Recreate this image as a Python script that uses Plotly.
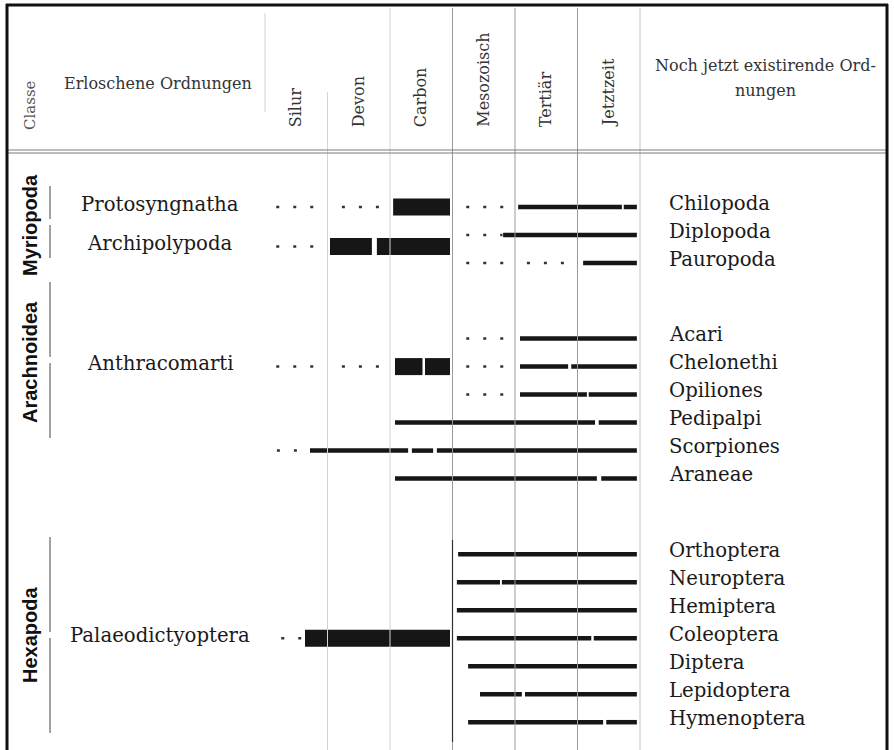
import plotly.graph_objects as go

# ─── Data ─────────────────────────────────────────────────────────────────────
# x in geological periods: 0 = start of Silur ... 6 = end of Jetztzeit
PERIODS = ["Silur", "Devon", "Carbon", "Mesozoisch", "Tertiär", "Jetztzeit"]
CLASSES = ["Myriopoda", "Arachnoidea", "Hexapoda"]

LIVING_ORDERS = ["Chilopoda", "Diplopoda", "Pauropoda",
                 "Acari", "Chelonethi", "Opiliones", "Pedipalpi", "Scorpiones", "Araneae",
                 "Orthoptera", "Neuroptera", "Hemiptera", "Coleoptera", "Diptera",
                 "Lepidoptera", "Hymenoptera"]
LIVING_CLASS = [0, 0, 0, 1, 1, 1, 1, 1, 1, 2, 2, 2, 2, 2, 2, 2]
LIVING_RANGES = [
    [(4.05, 5.71), (5.74, 5.95)],
    [(3.81, 5.95)],
    [(5.09, 5.95)],
    [(4.08, 5.95)],
    [(4.08, 4.85), (4.90, 5.95)],
    [(4.08, 5.15), (5.18, 5.95)],
    [(2.08, 5.28), (5.34, 5.95)],
    [(0.72, 2.29), (2.35, 2.69), (2.75, 5.95)],
    [(2.08, 5.31), (5.38, 5.95)],
    [(3.09, 5.95)],
    [(3.07, 3.76), (3.79, 5.95)],
    [(3.07, 5.95)],
    [(3.07, 5.22), (5.26, 5.95)],
    [(3.25, 5.95)],
    [(3.44, 4.11), (4.16, 5.95)],
    [(3.25, 5.41), (5.46, 5.95)],
]
LIVING_UNCERTAIN = [
    [(3.22, 3.82)],
    [(3.22, 3.80)],
    [(3.22, 3.82), (4.19, 4.83)],
    [(3.22, 3.82)],
    [(3.22, 3.82)],
    [(3.22, 3.82)],
    [],
    [(0.19, 0.52)],
    [],
    [], [], [], [], [], [], [],
]

EXTINCT_ORDERS = ["Protosyngnatha", "Archipolypoda", "Anthracomarti", "Palaeodictyoptera"]
EXTINCT_CLASS = [0, 0, 1, 2]
EXTINCT_SLOT = [0, 1.41, 4, 12]          # slot in the living-order list
EXTINCT_RANGES = [
    [(2.05, 2.96)],
    [(1.04, 1.71), (1.79, 2.96)],
    [(2.08, 2.52), (2.56, 2.96)],
    [(0.64, 2.96)],
]
EXTINCT_UNCERTAIN = [
    [(0.18, 0.84), (1.23, 1.84)],
    [(0.18, 0.84)],
    [(0.18, 0.86), (1.23, 1.84)],
    [(0.26, 0.58)],
]

# ─── Layout helpers ───────────────────────────────────────────────────────────
W, H = 894, 750
X0_PX, UNIT_PX = 265, 62.5      # pixel of period 0, pixels per period
Y0_PX, ROW_PX = 207, 28         # pixel of first row, pixels per row
GROUP_GAP = 1.7                 # extra rows between classes
INK = "#161616"
SERIF = "DejaVu Serif"


def row_of(slot, cls):
    return slot + cls * GROUP_GAP


def px(x):
    return x / W


def py(y):
    return 1 - y / H


def segments(spans, y):
    xs, ys = [], []
    for a, b in spans:
        xs += [a, b, None]
        ys += [y, y, None]
    return xs, ys


fig = go.Figure()

thin_x, thin_y, dot_x, dot_y, thick_x, thick_y = [], [], [], [], [], []
for i, name in enumerate(LIVING_ORDERS):
    r = row_of(i, LIVING_CLASS[i])
    a, b = segments(LIVING_RANGES[i], r)
    thin_x += a
    thin_y += b
    a, b = segments(LIVING_UNCERTAIN[i], r)
    dot_x += a
    dot_y += b
for i, name in enumerate(EXTINCT_ORDERS):
    r = row_of(EXTINCT_SLOT[i], EXTINCT_CLASS[i])
    a, b = segments(EXTINCT_RANGES[i], r)
    thick_x += a
    thick_y += b
    a, b = segments(EXTINCT_UNCERTAIN[i], r)
    dot_x += a
    dot_y += b

fig.add_trace(go.Scatter(x=thin_x, y=thin_y, mode="lines", line=dict(color=INK, width=4.5),
                         hoverinfo="skip", showlegend=False))
fig.add_trace(go.Scatter(x=thick_x, y=thick_y, mode="lines", line=dict(color=INK, width=17),
                         hoverinfo="skip", showlegend=False))
fig.add_trace(go.Scatter(x=dot_x, y=dot_y, mode="lines",
                         line=dict(color="#333333", width=2.5, dash="3px,14px"),
                         hoverinfo="skip", showlegend=False))

# ─── Grid / frame ─────────────────────────────────────────────────────────────
shapes = []
col_style = {0: ("#d4d4d4", 13, 112), 1: ("#d4d4d4", 92, H), 2: ("#d4d4d4", 8, H),
             3: ("#9a9a9a", 8, H), 4: ("#9a9a9a", 8, H), 5: ("#9a9a9a", 8, H),
             6: ("#c4c4c4", 8, H)}
for k, (c, y_a, y_b) in col_style.items():
    shapes.append(dict(type="line", xref="x", yref="paper", x0=k, x1=k,
                       y0=py(y_a), y1=py(y_b), line=dict(color=c, width=1)))
# dark rule in front of the insect orders
shapes.append(dict(type="line", xref="x", yref="paper", x0=3.0, x1=3.0,
                   y0=py(540), y1=py(742), line=dict(color="#333333", width=1.2)))
# header rules
for yy in (150, 153):
    shapes.append(dict(type="line", xref="paper", yref="paper", x0=px(7), x1=px(887),
                       y0=py(yy), y1=py(yy), line=dict(color="#7a7a7a", width=1)))
# frame
shapes.append(dict(type="line", xref="paper", yref="paper", x0=px(6), x1=px(888),
                   y0=py(5), y1=py(5), line=dict(color="#111111", width=3)))
for xx in (7, 887):
    shapes.append(dict(type="line", xref="paper", yref="paper", x0=px(xx), x1=px(xx),
                       y0=py(4), y1=py(H), line=dict(color="#111111", width=3)))

# class labels with bracket rules
class_center_px = [225, 362, 635]
class_half_px = [36, 78, 98]
bracket_center_px = [222, 360, 635]
for k, cls in enumerate(CLASSES):
    c, h = bracket_center_px[k], class_half_px[k]
    for y_a, y_b in ((c - h, c - 3), (c + 3, c + h)):
        shapes.append(dict(type="line", xref="paper", yref="paper", x0=px(50), x1=px(50),
                           y0=py(y_a), y1=py(y_b), line=dict(color="#444444", width=1)))

annotations = []
for k, cls in enumerate(CLASSES):
    annotations.append(dict(text=f"<b>{cls}</b>", xref="paper", yref="paper",
                            x=px(30), y=py(class_center_px[k]), textangle=-90,
                            showarrow=False, xanchor="center", yanchor="middle",
                            font=dict(family="Liberation Sans Narrow, Liberation Sans", size=20,
                                      color="#111111")))

# header texts
head_font = dict(family=SERIF, size=16, color="#333333")
annotations.append(dict(text="Classe", xref="paper", yref="paper", x=px(30), y=py(132),
                        textangle=-90, showarrow=False, xanchor="center", yanchor="bottom",
                        font=dict(family=SERIF, size=15, color="#555555")))
annotations.append(dict(text="Erloschene Ordnungen", xref="paper", yref="paper",
                        x=px(62), y=py(83), showarrow=False, xanchor="left", yanchor="middle",
                        font=head_font))
for k, p in enumerate(PERIODS):
    annotations.append(dict(text=p, xref="x", yref="paper", x=k + 0.5, y=py(129),
                            textangle=-90, showarrow=False, xanchor="center",
                            yanchor="bottom", font=head_font))
for txt, yy in (("Noch jetzt existirende Ord-", 65), ("nungen", 90)):
    annotations.append(dict(text=txt, xref="paper", yref="paper", x=px(765), y=py(yy),
                            showarrow=False, xanchor="center", yanchor="middle",
                            font=head_font))

# order names
body_font = dict(family=SERIF, size=19.7, color="#1a1a1a")
for i, name in enumerate(LIVING_ORDERS):
    annotations.append(dict(text=name, xref="paper", yref="y", x=px(667),
                            y=row_of(i, LIVING_CLASS[i]), yshift=4, showarrow=False,
                            xanchor="left", yanchor="middle", font=body_font))
for i, name in enumerate(EXTINCT_ORDERS):
    annotations.append(dict(text=name, xref="paper", yref="y", x=px(160),
                            y=row_of(EXTINCT_SLOT[i], EXTINCT_CLASS[i]), yshift=3,
                            showarrow=False, xanchor="center", yanchor="middle",
                            font=body_font))

fig.update_layout(
    width=W, height=H, autosize=False,
    margin=dict(l=0, r=0, t=0, b=0),
    paper_bgcolor="white", plot_bgcolor="white",
    shapes=shapes, annotations=annotations,
    xaxis=dict(range=[-X0_PX / UNIT_PX, (W - X0_PX) / UNIT_PX], visible=False, fixedrange=True),
    yaxis=dict(range=[(H - Y0_PX) / ROW_PX, -Y0_PX / ROW_PX], visible=False, fixedrange=True),
)

fig.write_html("out.html", config={"displayModeBar": False},
               post_script="document.body.style.margin='0';document.body.style.overflow='hidden';")
